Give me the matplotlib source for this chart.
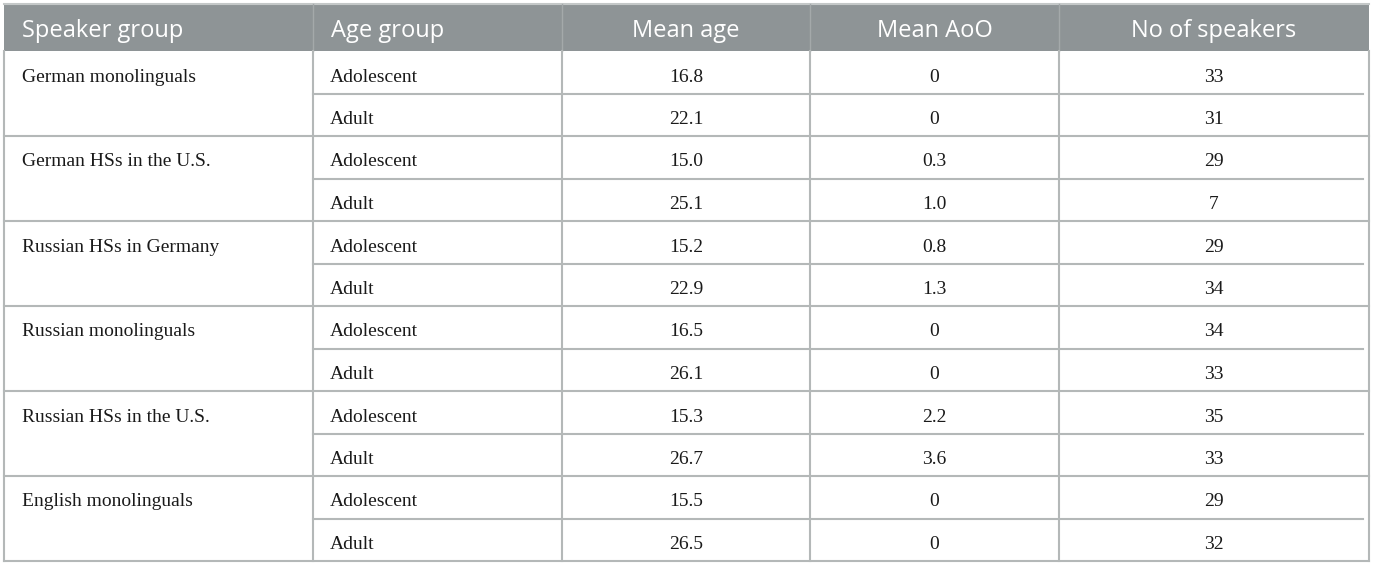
import matplotlib.pyplot as plt
from matplotlib.patches import Rectangle

# table content
headers = ["Speaker group", "Age group", "Mean age", "Mean AoO", "No of speakers"]
speaker_groups = ["German monolinguals", "German HSs in the U.S.", "Russian HSs in Germany",
                  "Russian monolinguals", "Russian HSs in the U.S.", "English monolinguals"]
age_groups = ["Adolescent", "Adult"]
mean_age = ["16.8", "22.1", "15.0", "25.1", "15.2", "22.9", "16.5", "26.1", "15.3", "26.7", "15.5", "26.5"]
mean_aoo = ["0", "0", "0.3", "1.0", "0.8", "1.3", "0", "0", "2.2", "3.6", "0", "0"]
n_speakers = ["33", "31", "29", "7", "29", "34", "34", "33", "35", "33", "29", "32"]

W, H = 1375, 567
fig = plt.figure(figsize=(W / 100, H / 100), dpi=100)
ax = fig.add_axes([0, 0, 1, 1])
ax.set_xlim(0, W)
ax.set_ylim(H, 0)
ax.axis("off")

col_x = [4, 313, 562, 810, 1059, 1369]
top, head_bot, bottom = 4, 51, 561
n_rows = len(mean_age)
row_h = (bottom - head_bot) / n_rows
line_col = "#b4b8b8"
head_col = "#8e9496"

# header band
ax.add_patch(Rectangle((col_x[0], top), col_x[-1] - col_x[0], head_bot - top,
                       facecolor=head_col, edgecolor="none"))
ax.plot([col_x[0], col_x[-1]], [top, top], color="#c4c8c8", lw=1.5)
for x in col_x[1:-1]:
    ax.plot([x, x], [top, head_bot], color="#a4a9aa", lw=1)

hfont = dict(family="Open Sans", fontsize=17, color="white", va="baseline")
for i, h in enumerate(headers):
    yb = 37
    if i < 2:
        ax.text(col_x[i] + 18, yb, h, ha="left", **hfont)
    else:
        ax.text((col_x[i] + col_x[i + 1]) / 2, yb, h, ha="center", **hfont)

# grid lines
for x in col_x:
    ax.plot([x, x], [head_bot, bottom], color=line_col, lw=1.5)
ax.plot([col_x[0], col_x[-1]], [bottom, bottom], color=line_col, lw=1.5)
for r in range(1, n_rows):
    y = head_bot + r * row_h
    if r % 2 == 0:
        ax.plot([col_x[0], col_x[-1]], [y, y], color=line_col, lw=1.5)
    else:
        ax.plot([col_x[1], col_x[-1] - 6], [y, y], color=line_col, lw=1.5)

# body text
bfont = dict(family="Liberation Serif", fontsize=14, color="#1a1a1a", va="baseline")
for r in range(n_rows):
    yb = head_bot + r * row_h + 30.5
    if r % 2 == 0:
        ax.text(col_x[0] + 18, yb, speaker_groups[r // 2], ha="left", **bfont)
    ax.text(col_x[1] + 17, yb, age_groups[r % 2], ha="left", **bfont)
    for c, vals in enumerate([mean_age, mean_aoo, n_speakers]):
        ax.text((col_x[c + 2] + col_x[c + 3]) / 2, yb, vals[r], ha="center", **bfont)

fig.savefig("out.png", dpi=100, facecolor="white")
